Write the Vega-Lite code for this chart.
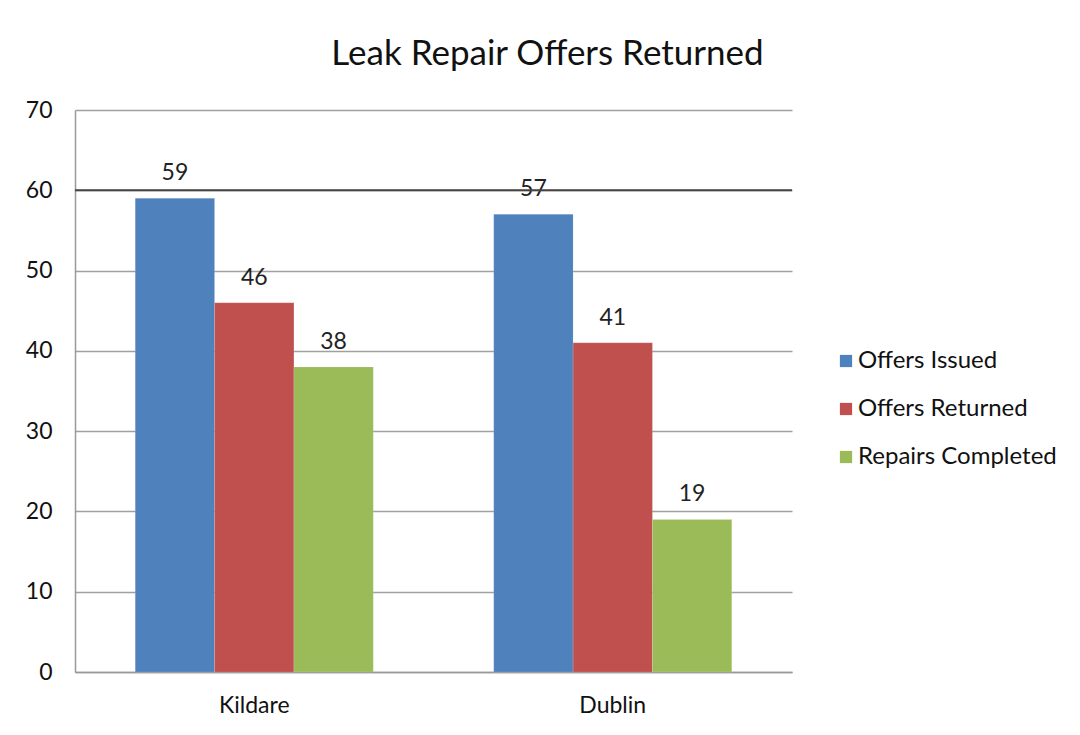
{
  "$schema": "https://vega.github.io/schema/vega-lite/v6.json",
  "width": 717,
  "height": 562,
  "autosize": {"type": "none"},
  "padding": {"left": 75, "top": 110, "right": 288, "bottom": 63},
  "background": "white",
  "title": {
    "text": "Leak Repair Offers Returned",
    "anchor": "middle",
    "frame": "group",
    "dx": 114,
    "offset": 27,
    "font": "Lato",
    "fontSize": 35,
    "fontWeight": "normal",
    "color": "#111111"
  },
  "config": {
    "font": "Lato",
    "view": {"stroke": null},
    "axis": {"labelFont": "Lato", "labelColor": "#222222"}
  },
  "data": {
    "values": [
      {"region": "Kildare", "series": "Offers Issued", "value": 59},
      {"region": "Kildare", "series": "Offers Returned", "value": 46},
      {"region": "Kildare", "series": "Repairs Completed", "value": 38},
      {"region": "Dublin", "series": "Offers Issued", "value": 57},
      {"region": "Dublin", "series": "Offers Returned", "value": 41},
      {"region": "Dublin", "series": "Repairs Completed", "value": 19}
    ]
  },
  "encoding": {
    "x": {
      "field": "region",
      "type": "nominal",
      "sort": ["Kildare", "Dublin"],
      "scale": {"paddingInner": 0.336, "paddingOuter": 0.168},
      "axis": {
        "title": null,
        "labelAngle": 0,
        "labelFontSize": 23,
        "labelPadding": 22,
        "ticks": false,
        "domainColor": "#999999",
        "domainWidth": 1.5,
        "labelColor": "#111111"
      }
    },
    "xOffset": {
      "field": "series",
      "type": "nominal",
      "sort": ["Offers Issued", "Offers Returned", "Repairs Completed"],
      "scale": {"paddingInner": 0, "paddingOuter": 0}
    },
    "y": {
      "field": "value",
      "type": "quantitative",
      "scale": {"domain": [0, 70], "nice": false},
      "axis": {
        "title": null,
        "values": [0, 10, 20, 30, 40, 50, 60, 70],
        "labelFontSize": 23,
        "labelPadding": 23,
        "ticks": false,
        "gridColor": "#a0a0a0",
        "gridWidth": 1.5,
        "domainColor": "#999999",
        "domainWidth": 1.5,
        "labelColor": "#111111"
      }
    }
  },
  "layer": [
    {
      "mark": {"type": "bar", "stroke": "#ffffff", "strokeOpacity": 0.25, "strokeWidth": 0.5},
      "encoding": {
        "color": {
          "field": "series",
          "type": "nominal",
          "sort": ["Offers Issued", "Offers Returned", "Repairs Completed"],
          "scale": {"range": ["#4F81BD", "#C0504D", "#9BBB59"]},
          "legend": {
            "title": null,
            "orient": "none",
            "legendX": 759,
            "legendY": 239,
            "symbolType": "square",
            "symbolSize": 150,
            "symbolStrokeWidth": 0,
            "labelFontSize": 24,
            "labelFont": "Lato",
            "labelColor": "#111111",
            "labelOffset": 0,
            "labelLimit": 400,
            "rowPadding": 24
          }
        }
      }
    },
    {
      "mark": {"type": "text", "baseline": "bottom", "dy": -13, "fontSize": 23, "color": "#222222", "font": "Lato"},
      "encoding": {"text": {"field": "value", "type": "quantitative"}}
    },
    {
      "data": {"values": [{"level": 60}]},
      "mark": {"type": "rule", "color": "#444444", "strokeWidth": 2},
      "encoding": {
        "y": {"field": "level", "type": "quantitative"},
        "x": null,
        "xOffset": null
      }
    }
  ]
}
